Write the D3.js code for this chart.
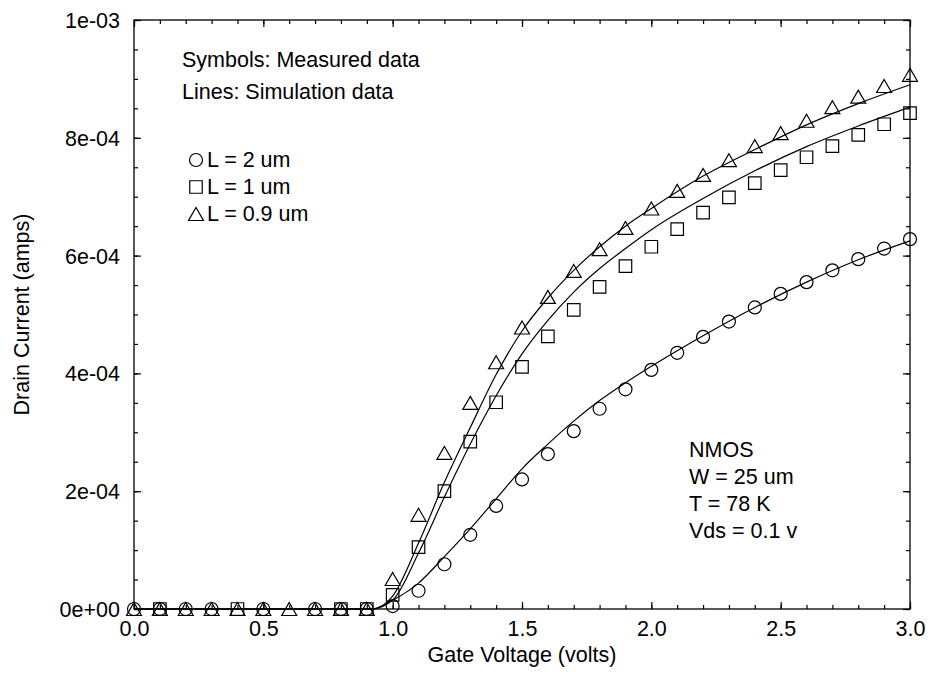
<!DOCTYPE html>
<html>
<head>
<meta charset="utf-8">
<script src="https://cdn.jsdelivr.net/npm/d3@7"></script>
<style>
  body { margin: 0; background: #fff; }
  text { font-family: "Liberation Sans", Arial, sans-serif; fill: #000; }
</style>
</head>
<body>
<div id="chart"></div>
<script>
var width = 929, height = 673;
var margin = {top: 20, right: 19, bottom: 64, left: 134};
var fontSize = "21.5px";

// measured data (symbols)
var vgCircle = [0, 0.1, 0.2, 0.3, 0.5, 0.7, 0.8, 0.9, 1.0, 1.1, 1.2, 1.3, 1.4, 1.5, 1.6, 1.7, 1.8, 1.9, 2.0, 2.1, 2.2, 2.3, 2.4, 2.5, 2.6, 2.7, 2.8, 2.9, 3.0];
var idCircle = [0, 0, 0, 0, 0, 0, 0, 0, 0.05e-4, 0.31e-4, 0.76e-4, 1.26e-4, 1.75e-4, 2.2e-4, 2.63e-4, 3.02e-4, 3.4e-4, 3.73e-4, 4.06e-4, 4.35e-4, 4.62e-4, 4.88e-4, 5.12e-4, 5.35e-4, 5.55e-4, 5.75e-4, 5.94e-4, 6.12e-4, 6.28e-4];

var vgSquare = [0.1, 0.4, 0.8, 0.9, 1.0, 1.1, 1.2, 1.3, 1.4, 1.5, 1.6, 1.7, 1.8, 1.9, 2.0, 2.1, 2.2, 2.3, 2.4, 2.5, 2.6, 2.7, 2.8, 2.9, 3.0];
var idSquare = [0, 0, 0, 0, 0.24e-4, 1.05e-4, 2.0e-4, 2.84e-4, 3.51e-4, 4.11e-4, 4.63e-4, 5.08e-4, 5.47e-4, 5.82e-4, 6.15e-4, 6.45e-4, 6.73e-4, 6.99e-4, 7.23e-4, 7.45e-4, 7.67e-4, 7.86e-4, 8.05e-4, 8.23e-4, 8.42e-4];

var vgTriangle = [0, 0.1, 0.2, 0.3, 0.4, 0.5, 0.6, 0.7, 0.8, 0.9, 1.0, 1.1, 1.2, 1.3, 1.4, 1.5, 1.6, 1.7, 1.8, 1.9, 2.0, 2.1, 2.2, 2.3, 2.4, 2.5, 2.6, 2.7, 2.8, 2.9, 3.0];
var idTriangle = [0, 0, 0, 0, 0, 0, 0, 0, 0, 0, 0.51e-4, 1.6e-4, 2.65e-4, 3.5e-4, 4.19e-4, 4.78e-4, 5.3e-4, 5.74e-4, 6.11e-4, 6.47e-4, 6.8e-4, 7.1e-4, 7.37e-4, 7.62e-4, 7.86e-4, 8.08e-4, 8.29e-4, 8.52e-4, 8.7e-4, 8.88e-4, 9.07e-4];

// simulation data (lines)
var vgSim = [0, 0.92, 1.0, 1.1, 1.2, 1.3, 1.4, 1.5, 1.6, 1.7, 1.8, 1.9, 2.0, 2.2, 2.4, 2.6, 2.8, 3.0];
var simCircle   = [0, 0, 0.15e-4, 0.44e-4, 0.89e-4, 1.36e-4, 1.87e-4, 2.38e-4, 2.8e-4, 3.19e-4, 3.54e-4, 3.84e-4, 4.12e-4, 4.64e-4, 5.12e-4, 5.55e-4, 5.93e-4, 6.25e-4];
var simSquare   = [0, 0, 0.15e-4, 0.95e-4, 1.9e-4, 2.8e-4, 3.62e-4, 4.33e-4, 4.9e-4, 5.38e-4, 5.78e-4, 6.12e-4, 6.44e-4, 6.97e-4, 7.44e-4, 7.85e-4, 8.2e-4, 8.52e-4];
var simTriangle = [0, 0, 0.22e-4, 1.12e-4, 2.15e-4, 3.08e-4, 3.98e-4, 4.72e-4, 5.28e-4, 5.75e-4, 6.15e-4, 6.5e-4, 6.8e-4, 7.35e-4, 7.8e-4, 8.22e-4, 8.58e-4, 8.9e-4];

var xTicks = [0, 0.5, 1.0, 1.5, 2.0, 2.5, 3.0];
var yTicks = [0, 2e-4, 4e-4, 6e-4, 8e-4, 1e-3];
var yTickLabels = ["0e+00", "2e-04", "4e-04", "6e-04", "8e-04", "1e-03"];

var legendLabels = ["L = 2 um", "L = 1 um", "L = 0.9 um"];
var noteLines = ["NMOS", "W = 25 um", "T = 78 K", "Vds = 0.1 v"];

var x = d3.scaleLinear().domain([0, 3]).range([margin.left, width - margin.right]);
var y = d3.scaleLinear().domain([0, 1e-3]).range([height - margin.bottom, margin.top]);

var svg = d3.select("#chart").append("svg")
    .attr("width", width)
    .attr("height", height);

svg.append("rect").attr("width", width).attr("height", height).attr("fill", "#fff");

var xMinor = d3.range(0, 3.0001, 0.1);
var yMinor = d3.range(0, 1.00001e-3, 0.5e-4);

function styleAxis(g) {
    g.select(".domain").remove();
    g.selectAll("line").attr("stroke", "#000").attr("stroke-width", 1.2);
}

// minor ticks on all four sides, pointing inward
svg.append("g").attr("transform", "translate(0," + y(0) + ")")
    .call(d3.axisBottom(x).tickValues(xMinor).tickSize(-4).tickFormat(""))
    .call(styleAxis);
svg.append("g").attr("transform", "translate(0," + y(1e-3) + ")")
    .call(d3.axisTop(x).tickValues(xMinor).tickSize(-4).tickFormat(""))
    .call(styleAxis);
svg.append("g").attr("transform", "translate(" + x(0) + ",0)")
    .call(d3.axisLeft(y).tickValues(yMinor).tickSize(-4).tickFormat(""))
    .call(styleAxis);
svg.append("g").attr("transform", "translate(" + x(3) + ",0)")
    .call(d3.axisRight(y).tickValues(yMinor).tickSize(-4).tickFormat(""))
    .call(styleAxis);

// major ticks
var xAxis = svg.append("g").attr("transform", "translate(0," + y(0) + ")")
    .call(d3.axisBottom(x).tickValues(xTicks).tickSize(-7).tickFormat(d3.format(".1f")))
    .call(styleAxis);
xAxis.selectAll("text").style("font-size", fontSize).attr("y", 27).attr("dy", 0);

svg.append("g").attr("transform", "translate(0," + y(1e-3) + ")")
    .call(d3.axisTop(x).tickValues(xTicks).tickSize(-7).tickFormat(""))
    .call(styleAxis);

var yAxis = svg.append("g").attr("transform", "translate(" + x(0) + ",0)")
    .call(d3.axisLeft(y).tickValues(yTicks).tickSize(-7)
        .tickFormat(function(d, i) { return yTickLabels[i]; }))
    .call(styleAxis);
yAxis.selectAll("text").style("font-size", fontSize).attr("x", -14).attr("dy", "0.35em");

svg.append("g").attr("transform", "translate(" + x(3) + ",0)")
    .call(d3.axisRight(y).tickValues(yTicks).tickSize(-7).tickFormat(""))
    .call(styleAxis);

// frame
svg.append("rect")
    .attr("x", x(0)).attr("y", y(1e-3))
    .attr("width", x(3) - x(0)).attr("height", y(0) - y(1e-3))
    .attr("fill", "none").attr("stroke", "#000").attr("stroke-width", 1.3);

// simulation lines
var simLine = d3.line()
    .x(function(d) { return x(d[0]); })
    .y(function(d) { return y(d[1]); })
    .curve(d3.curveMonotoneX);

[simCircle, simSquare, simTriangle].forEach(function(s) {
    svg.append("path")
        .datum(vgSim.map(function(v, i) { return [v, s[i]]; }))
        .attr("d", simLine)
        .attr("fill", "none")
        .attr("stroke", "#000")
        .attr("stroke-width", 1.2);
});

// symbols
var circleSym = d3.symbol().type(d3.symbolCircle).size(Math.PI * 6.5 * 6.5);
var squareSym = d3.symbol().type(d3.symbolSquare).size(12.5 * 12.5);
var triSym = d3.symbol().type(d3.symbolTriangle).size(97);
var triShift = 2.2;

function drawSymbols(vs, ids, sym, dy) {
    svg.append("g").selectAll("path")
        .data(vs.map(function(v, i) { return [v, ids[i]]; }))
        .enter().append("path")
        .attr("d", sym)
        .attr("transform", function(d) { return "translate(" + x(d[0]) + "," + (y(d[1]) + dy) + ")"; })
        .attr("fill", "none")
        .attr("stroke", "#000")
        .attr("stroke-width", 1.2);
}
drawSymbols(vgCircle, idCircle, circleSym, 0);
drawSymbols(vgSquare, idSquare, squareSym, 0);
drawSymbols(vgTriangle, idTriangle, triSym, triShift);

// annotations
svg.append("text").attr("x", 182).attr("y", 67).style("font-size", fontSize).text("Symbols: Measured data");
svg.append("text").attr("x", 182).attr("y", 99).style("font-size", fontSize).text("Lines: Simulation data");

var legendSyms = [circleSym, squareSym, triSym];
var legendY = [160, 187, 214];
legendLabels.forEach(function(lab, i) {
    svg.append("path")
        .attr("d", legendSyms[i])
        .attr("transform", "translate(196," + (legendY[i] + (i == 2 ? triShift : 0)) + ")")
        .attr("fill", "none").attr("stroke", "#000").attr("stroke-width", 1.2);
    svg.append("text").attr("x", 207).attr("y", legendY[i] + 7).style("font-size", fontSize).text(lab);
});

noteLines.forEach(function(t, i) {
    svg.append("text").attr("x", 689).attr("y", 457 + i * 27).style("font-size", fontSize).text(t);
});

// axis titles
svg.append("text")
    .attr("x", (x(0) + x(3)) / 2).attr("y", 662)
    .attr("text-anchor", "middle").style("font-size", fontSize)
    .text("Gate Voltage (volts)");

svg.append("text")
    .attr("transform", "translate(29," + (y(0) + y(1e-3)) / 2 + ") rotate(-90)")
    .attr("text-anchor", "middle").style("font-size", fontSize)
    .text("Drain Current (amps)");
</script>
</body>
</html>
